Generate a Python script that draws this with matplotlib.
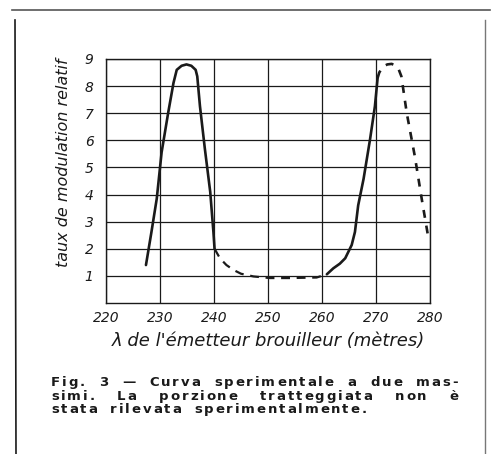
import numpy as np
import matplotlib.pyplot as plt
from matplotlib.lines import Line2D

# Measured curve (solid parts) and extrapolated curve (dashed parts)
SOLID_1_X = [227.4, 228.4, 229.4, 230.3, 231.5, 232.5, 233.1, 234.0, 234.9,
             235.8, 236.6, 236.9, 237.4, 238.3, 239.3, 239.9, 240.1]
SOLID_1_Y = [1.4, 2.6, 3.85, 5.56, 7.0, 8.12, 8.6, 8.75, 8.8,
             8.75, 8.6, 8.36, 7.26, 5.7, 4.1, 2.6, 2.0]

DASH_1_X = [240.1, 241.1, 242.3, 243.6, 245.0, 247.3, 250.4, 254.0, 259.0, 260.9]
DASH_1_Y = [2.0, 1.65, 1.4, 1.22, 1.08, 0.98, 0.92, 0.92, 0.94, 1.06]

SOLID_2_X = [260.9, 262.1, 263.3, 264.3, 265.5, 266.1, 266.7, 267.7, 268.9, 269.8, 270.3]
SOLID_2_Y = [1.06, 1.28, 1.45, 1.65, 2.14, 2.62, 3.6, 4.58, 6.04, 7.26, 8.3]

DASH_2_X = [270.3, 270.6, 271.3, 272.1, 272.9, 273.6, 274.1, 274.7, 275.7, 277.2, 278.5, 279.7]
DASH_2_Y = [8.3, 8.5, 8.72, 8.8, 8.82, 8.76, 8.67, 8.36, 7.0, 5.4, 3.8, 2.4]

X_TICKS = [220, 230, 240, 250, 260, 270, 280]
Y_TICKS = [1, 2, 3, 4, 5, 6, 7, 8, 9]

CAPTION = ["Fig. 3 \u2014 Curva sperimentale a due mas-",
           "simi. La porzione tratteggiata non è",
           "stata rilevata sperimentalmente."]

INK = "#1a1a1a"

fig = plt.figure(figsize=(4.92, 4.54), dpi=100)
fig.patch.set_facecolor("white")

W, H = 492, 454
ax = fig.add_axes([106 / W, (H - 303) / H, 324 / W, 244 / H])

ax.plot(SOLID_1_X, SOLID_1_Y, color=INK, lw=1.9, solid_capstyle="round", solid_joinstyle="round")
ax.plot(DASH_1_X, DASH_1_Y, color=INK, lw=1.6, ls=(0, (4, 3)))
ax.plot(SOLID_2_X, SOLID_2_Y, color=INK, lw=1.9, solid_capstyle="round", solid_joinstyle="round")
ax.plot(DASH_2_X, DASH_2_Y, color=INK, lw=1.9, ls=(0, (3, 3)))

ax.set_xlim(220, 280)
ax.set_ylim(0, 9)
ax.set_xticks(X_TICKS)
ax.set_yticks(Y_TICKS)
ax.set_xticklabels([str(t) for t in X_TICKS], style="italic", fontsize=10)
ax.set_yticklabels([str(t) for t in Y_TICKS], style="italic", fontsize=10)
ax.tick_params(length=0, pad=9, colors=INK)
ax.tick_params(axis="x", pad=6)
ax.grid(True, color=INK, lw=0.9)
for s in ax.spines.values():
    s.set_color(INK)
    s.set_linewidth(1.0)

ax.set_ylabel("taux de modulation relatif", style="italic", fontsize=11.5, color=INK)
ax.yaxis.set_label_coords(-0.108, 0.574)
ax.set_xlabel("\u03bb de l'émetteur brouilleur (mètres)", style="italic",
              fontsize=13, color=INK, labelpad=5)

# page frame
fig.add_artist(Line2D([12 / W, 490 / W], [1 - 10 / H, 1 - 10 / H], color="#555555", lw=1.2))
fig.add_artist(Line2D([15 / W, 16 / W], [1 - 20 / H, 0], color=INK, lw=1.2))
fig.add_artist(Line2D([485 / W, 485 / W], [1 - 20 / H, 0], color="#777777", lw=1.0))

# caption with letter spacing, first two lines justified
renderer = fig.canvas.get_renderer()
FS = 9.5
TRACK = 1.9
x0, x1 = 51, 458


def char_w(c):
    t = fig.text(0, 0, c, fontsize=FS, weight="bold")
    w = t.get_window_extent(renderer).width
    t.remove()
    return w


for i, line in enumerate(CAPTION):
    y = 1 - (386 + i * 13.6) / H
    words = line.split(" ")
    wlens = [sum(char_w(c) for c in w) + TRACK * (len(w) - 1) for w in words]
    if i < len(CAPTION) - 1:
        gap = (x1 - x0 - sum(wlens)) / (len(words) - 1)
    else:
        gap = 13
    xp = x0
    for w, wl in zip(words, wlens):
        cx = xp
        for c in w:
            fig.text(cx / W, y, c, fontsize=FS, weight="bold", color=INK,
                     va="baseline", ha="left")
            cx += char_w(c) + TRACK
        xp += wl + gap

fig.savefig("out.png", dpi=100)
